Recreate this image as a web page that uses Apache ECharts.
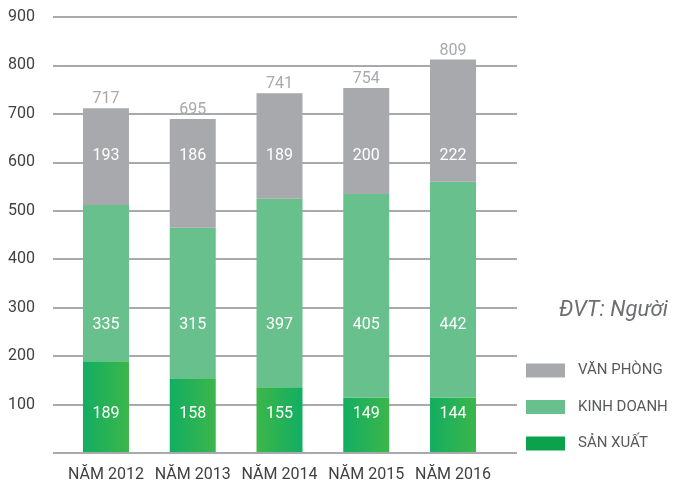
<!DOCTYPE html>
<html><head><meta charset="utf-8">
<script src="https://cdn.jsdelivr.net/npm/echarts@6/dist/echarts.min.js"></script>
<style>html,body{margin:0;padding:0;background:#fff}#c{width:674px;height:483px}</style>
</head><body><div id="c"></div>
<script>
// Categories and tick labels
const categories = ['NĂM 2012','NĂM 2013','NĂM 2014','NĂM 2015','NĂM 2016'];
const yTicks = [100,200,300,400,500,600,700,800,900];
// Printed values (labels)
const sanXuatLabel = [189,158,155,149,144];
const kinhDoanhLabel = [335,315,397,405,442];
const vanPhongLabel = [193,186,189,200,222];
const totals = [717,695,741,754,809];
// Segment heights as drawn in the picture
const sanXuatBar = [188,151,134,113,113];
const kinhDoanhBar = [323,313,390,421,446];
const vanPhongBar = [200,225,218,219,253];
const seriesNames = ['VĂN PHÒNG','KINH DOANH','SẢN XUẤT'];
const unitLabel = 'ĐVT: Người';

const FONT = "Roboto,'Liberation Sans',sans-serif";
const chart = echarts.init(document.getElementById('c'), null, {renderer:'canvas'});
const grey = '#a7a9ac';
const lightGreen = '#68c18c';
const gradA = new echarts.graphic.LinearGradient(0,0,1,0,[{offset:0,color:'#12ae62'},{offset:1,color:'#3cb64a'}]);
const gradB = new echarts.graphic.LinearGradient(0,0,1,0,[{offset:0,color:'#3cb64a'},{offset:1,color:'#12ae62'}]);

// fixed label levels (axis units) used by label layout
const LEVEL = {0: 78, 1: 262, 2: 612};
function fixedLabel(params){
  let y;
  try { y = chart.convertToPixel({yAxisIndex:1}, LEVEL[params.seriesIndex]); }
  catch(e){ y = 17 + (900-LEVEL[params.seriesIndex])/900*436; }
  return {x: params.rect.x + params.rect.width/2, y: y, align:'center', verticalAlign:'middle'};
}
const inLabel = {show:true,position:'inside',color:'#fff',fontSize:16,fontFamily:FONT};

chart.setOption({
  animation:false,
  textStyle:{fontFamily:FONT},
  grid:[
    {left:53,right:157,top:17,bottom:30},
    {left:62.6,right:177.6,top:17,bottom:30}
  ],
  xAxis:[
    {gridIndex:0,type:'value',show:false,min:0,max:1},
    {gridIndex:1,type:'category',data:categories,
     axisLine:{show:false},axisTick:{show:false},
     axisLabel:{color:'#414042',fontSize:16,margin:15,interval:0,fontFamily:FONT}}
  ],
  yAxis:[
    {gridIndex:0,type:'value',min:0,max:900,interval:100,
     axisLine:{show:false},axisTick:{show:false},
     splitLine:{lineStyle:{color:grey,width:2}},
     axisLabel:{color:'#414042',fontSize:16,margin:18,fontFamily:FONT,
       formatter:v=>yTicks.indexOf(v)>=0?String(v):''}},
    {gridIndex:1,type:'value',min:0,max:900,interval:100,show:false}
  ],
  legend:{
    orient:'vertical',left:526,top:363,itemWidth:39,itemHeight:14,itemGap:21.5,
    padding:0,icon:'rect',
    textStyle:{color:'#58595b',fontSize:15,lineHeight:14,fontFamily:FONT,padding:[0,0,0,8]},
    data:[
      {name:seriesNames[0]},
      {name:seriesNames[1]},
      {name:seriesNames[2],itemStyle:{color:'#0ca24b'}}
    ]
  },
  graphic:[{
    type:'text',right:6,top:299,
    style:{text:unitLabel,font:"italic 22px "+FONT,fill:'#6d6e71'}
  }],
  series:[
    {name:seriesNames[2],type:'bar',stack:'s',xAxisIndex:1,yAxisIndex:1,barWidth:46,
     data:sanXuatBar,
     itemStyle:{color:p=>p.dataIndex===2?gradB:gradA},
     label:Object.assign({},inLabel,{formatter:p=>String(sanXuatLabel[p.dataIndex])}),
     labelLayout:fixedLabel},
    {name:seriesNames[1],type:'bar',stack:'s',xAxisIndex:1,yAxisIndex:1,barWidth:46,
     data:kinhDoanhBar,itemStyle:{color:lightGreen},
     label:Object.assign({},inLabel,{formatter:p=>String(kinhDoanhLabel[p.dataIndex])}),
     labelLayout:fixedLabel},
    {name:seriesNames[0],type:'bar',stack:'s',xAxisIndex:1,yAxisIndex:1,barWidth:46,
     data:vanPhongBar,itemStyle:{color:grey},
     label:Object.assign({},inLabel,{formatter:p=>String(vanPhongLabel[p.dataIndex])}),
     labelLayout:fixedLabel},
    {name:'total',type:'bar',stack:'s',xAxisIndex:1,yAxisIndex:1,barWidth:46,
     data:totals.map(()=>0),itemStyle:{color:'transparent'},
     label:{show:true,position:'top',distance:1,color:grey,fontSize:16,fontFamily:FONT,
       formatter:p=>String(totals[p.dataIndex])}}
  ]
});
</script></body></html>
